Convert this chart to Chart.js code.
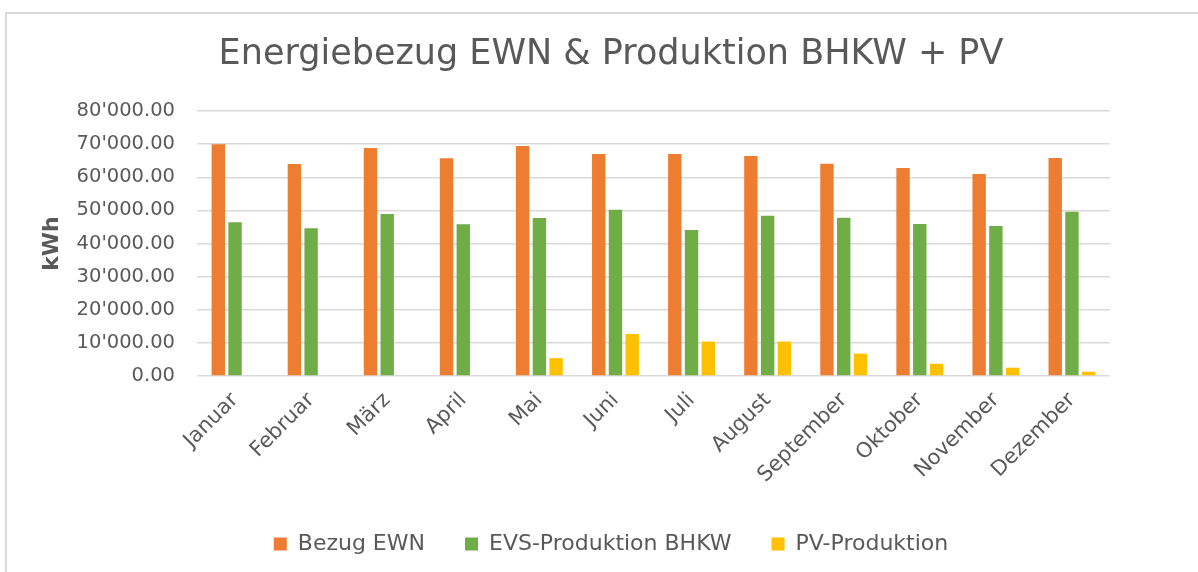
<!DOCTYPE html>
<html>
<head>
<meta charset="utf-8">
<script src="https://cdn.jsdelivr.net/npm/chart.js@4"></script>
<style>
  html, body { margin: 0; padding: 0; background: #fff; overflow: hidden; }
  #wrap { position: relative; width: 1198px; height: 572px; }
  #frame { position: absolute; left: 5px; top: 12px; width: 1300px; height: 700px;
           border: 2px solid #d9d9d9; box-sizing: border-box; }
  #chart { position: absolute; left: 0; top: 0; }
</style>
</head>
<body>
<div id="wrap">
  <div id="frame"></div>
  <canvas id="chart" width="1198" height="572"></canvas>
</div>
<script>
// data
const months = ['Januar', 'Februar', 'März', 'April', 'Mai', 'Juni',
                'Juli', 'August', 'September', 'Oktober', 'November', 'Dezember'];
const bezugEWN = [70000, 64000, 68800, 65700, 69400, 67000, 67000, 66400, 64100, 62800, 61000, 65800];
const bhkw = [46400, 44600, 48900, 45800, 47700, 50200, 44100, 48400, 47800, 45900, 45300, 49600];
const pv = [null, null, null, null, 5400, 12700, 10400, 10400, 6750, 3700, 2500, 1300];
const yTicks = [0, 10000, 20000, 30000, 40000, 50000, 60000, 70000, 80000];

const FONT = "'DejaVu Sans', sans-serif";
const GREY = '#595959';
const PAD_LEFT = 112;   // shifts title + legend centre to the right like the original
const AXIS_LEFT = 36;   // where the y axis (title + labels) really starts

// 80000 -> 80'000.00
function swissNum(v) {
  const parts = v.toFixed(2).split('.');
  return parts[0].replace(/\B(?=(\d{3})+(?!\d))/g, "'") + '.' + parts[1];
}

// after layout, stretch the y axis box back out to the left
const widenY = {
  id: 'widenY',
  afterLayout(chart) {
    const y = chart.scales.y;
    y.left = AXIS_LEFT;
    y.width = y.right - y.left;
  }
};

new Chart(document.getElementById('chart'), {
  type: 'bar',
  data: {
    labels: months,
    datasets: [
      { label: 'Bezug EWN', data: bezugEWN, backgroundColor: '#ED7D31' },
      { label: 'EVS-Produktion BHKW', data: bhkw, backgroundColor: '#70AD47' },
      { label: 'PV-Produktion', data: pv, backgroundColor: '#FFC000' }
    ]
  },
  plugins: [widenY],
  options: {
    responsive: false,
    animation: false,
    barPercentage: 0.8,
    categoryPercentage: 0.66,
    layout: { padding: { left: PAD_LEFT, right: 88, top: 0, bottom: 7 } },
    plugins: {
      title: {
        display: true,
        text: 'Energiebezug EWN & Produktion BHKW + PV',
        color: GREY,
        font: { family: FONT, size: 35, weight: 'normal' },
        padding: { top: 34, bottom: 35 }
      },
      legend: {
        position: 'bottom',
        labels: {
          color: GREY,
          font: { family: FONT, size: 22 },
          boxWidth: 13,
          boxHeight: 13,
          padding: 40
        }
      },
      tooltip: { enabled: false }
    },
    scales: {
      x: {
        afterFit: s => { s.height = 117; },
        grid: { display: false },
        border: { display: false },
        ticks: {
          color: GREY,
          font: { family: FONT, size: 21 },
          maxRotation: 45,
          minRotation: 45,
          padding: 4
        }
      },
      y: {
        min: 0,
        max: 80000,
        afterBuildTicks: s => { s.ticks = yTicks.map(v => ({ value: v })); },
        afterFit: s => { s.width = 197 - PAD_LEFT; },
        grid: { color: '#d9d9d9', lineWidth: 1.5, drawTicks: false },
        border: { display: false },
        ticks: {
          color: GREY,
          font: { family: FONT, size: 19.5 },
          padding: 22,
          callback: v => swissNum(v)
        },
        title: {
          display: true,
          text: 'kWh',
          color: GREY,
          font: { family: FONT, size: 22, weight: 'bold' },
          padding: { top: 3, bottom: 4 }
        }
      }
    }
  }
});
</script>
</body>
</html>
